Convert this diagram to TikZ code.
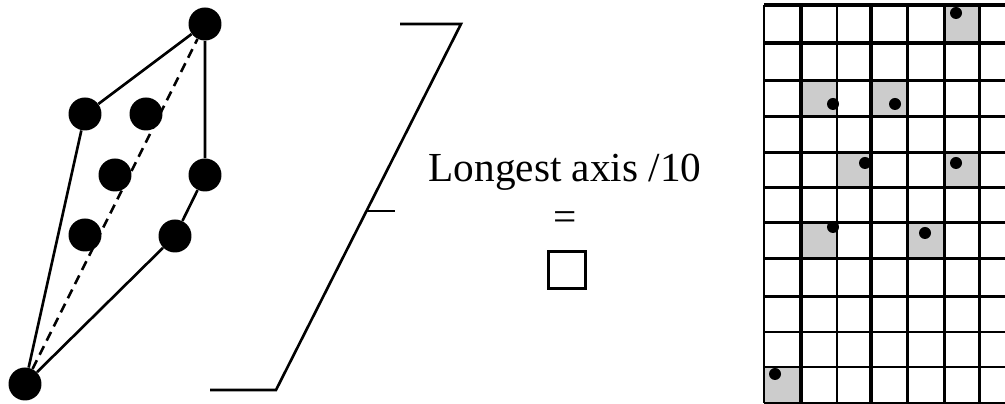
\documentclass[tikz,border=0pt]{standalone}
\usepackage{fontspec}
\setmainfont{Liberation Serif}

\begin{document}
\begin{tikzpicture}[x=0.02cm,y=-0.02cm,
  dot/.style={circle,fill=black,inner sep=0pt,minimum size=0.66cm},
  pin/.style={circle,fill=black,inner sep=0pt,minimum size=0.24cm},
  edge/.style={line width=1.5pt},
  gridline/.style={line width=1.7pt},
  heavyline/.style={line width=2.6pt}]
  \useasboundingbox (0,0) rectangle (1005,404);

  % the object and its outline
  \node[dot] (top) at (205,24) {};
  \node[dot] (a) at (85,114) {};
  \node[dot] (b) at (146,114) {};
  \node[dot] (c) at (115,175) {};
  \node[dot] (mid) at (205,175) {};
  \node[dot] (d) at (85,235) {};
  \node[dot] (e) at (175,236) {};
  \node[dot] (base) at (25,384) {};
  \draw[edge] (base) -- (a) -- (top) -- (mid) -- (e) -- (base);
  \draw[edge,dash pattern=on 5.5pt off 3.5pt] (base) -- (top);

  % bracket for the longest axis
  \draw[edge] (400,24) -- (461,24) -- (276,390) -- (210,390);
  \draw[edge] (367,211) -- (395,211);

  \node[font=\fontsize{23.5}{28}\selectfont] (axis) at (565,172) {Longest axis /10};
  \node[font=\fontsize{23.5}{28}\selectfont] (eq) at (565,221) {=};
  \node[draw,line width=1.4pt,minimum size=0.74cm,inner sep=0pt] (cell) at (567,270) {};

  % grid of cells
  \begin{scope}
    \clip (755,0) rectangle (1005,404);
    \fill[black!20] (944,5) rectangle (979,43);
    \fill[black!20] (801,81) rectangle (837,117);
    \fill[black!20] (871,81) rectangle (907,117);
    \fill[black!20] (837,153) rectangle (871,188);
    \fill[black!20] (944,153) rectangle (979,188);
    \fill[black!20] (801,223) rectangle (837,259);
    \fill[black!20] (907,223) rectangle (944,259);
    \fill[black!20] (764,367) rectangle (801,403);
    \foreach \x in {764,837,907,944,979,1015}
      \draw[gridline] (\x,5) -- (\x,403);
    \foreach \x in {801,871}
      \draw[heavyline] (\x,5) -- (\x,403);
    \foreach \y in {81,117,153,188,223,259,297,332,367,403}
      \draw[gridline] (764,\y) -- (1015,\y);
    \foreach \y in {5,43}
      \draw[heavyline] (764,\y) -- (1015,\y);
  \end{scope}
  \node[pin] (p1) at (956,13) {};
  \node[pin] (p2) at (833,104) {};
  \node[pin] (p3) at (895,104) {};
  \node[pin] (p4) at (865,163) {};
  \node[pin] (p5) at (956,163) {};
  \node[pin] (p6) at (833,227) {};
  \node[pin] (p7) at (925,233) {};
  \node[pin] (p8) at (775,374) {};
\end{tikzpicture}
\end{document}
